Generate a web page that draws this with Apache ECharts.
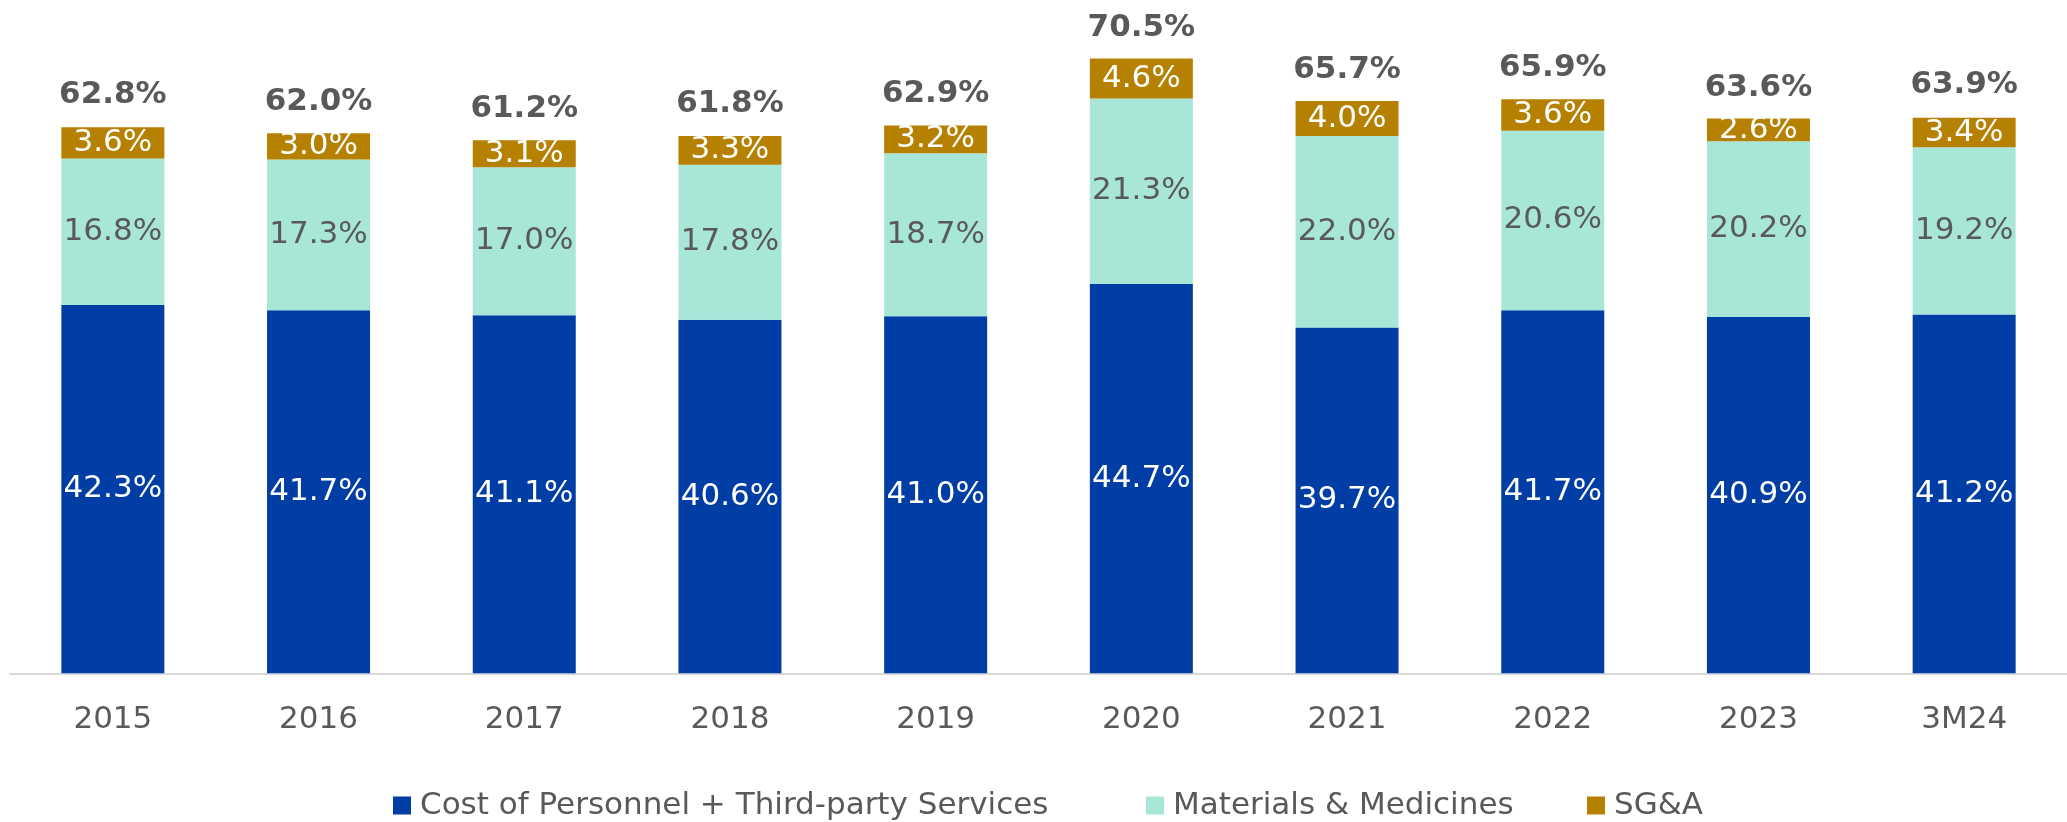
<!DOCTYPE html>
<html>
<head>
<meta charset="utf-8">
<script src="https://cdn.jsdelivr.net/npm/echarts@6/dist/echarts.min.js"></script>
<style>
html,body{margin:0;padding:0;background:#fff;}
#chart{width:2067px;height:822px;}
</style>
</head>
<body>
<div id="chart"></div>
<script>
const categories = ['2015','2016','2017','2018','2019','2020','2021','2022','2023','3M24'];
const personnel = [42.3, 41.7, 41.1, 40.6, 41.0, 44.7, 39.7, 41.7, 40.9, 41.2];
const materials = [16.8, 17.3, 17.0, 17.8, 18.7, 21.3, 22.0, 20.6, 20.2, 19.2];
const sga = [3.6, 3.0, 3.1, 3.3, 3.2, 4.6, 4.0, 3.6, 2.6, 3.4];
const totals = [62.8, 62.0, 61.2, 61.8, 62.9, 70.5, 65.7, 65.9, 63.6, 63.9];
const seriesNames = ['Cost of Personnel + Third-party Services', 'Materials & Medicines', 'SG&A'];

const FONT = 'DejaVu Sans, Verdana, sans-serif';
const GRAY = '#595959';
const pct = p => p.value.toFixed(1) + '%';

const chart = echarts.init(document.getElementById('chart'), null, {renderer: 'canvas'});

function legendAt(name, left) {
  return {
    data: [name], left: left, top: 785, padding: 5, itemWidth: 18, itemHeight: 18,
    icon: 'rect', selectedMode: false,
    textStyle: {fontFamily: FONT, fontSize: 31, color: GRAY, padding: [0, 0, 0, 4]}
  };
}

chart.setOption({
  animation: false,
  backgroundColor: '#ffffff',
  grid: {left: 10, right: -9, top: 0, bottom: 148.7, containLabel: false},
  legend: [
    legendAt(seriesNames[0], 388),
    legendAt(seriesNames[1], 1141),
    legendAt(seriesNames[2], 1582)
  ],
  xAxis: {
    type: 'category', data: categories,
    axisLine: {show: true, lineStyle: {color: '#D9D9D9', width: 2}},
    axisTick: {show: false},
    axisLabel: {fontFamily: FONT, fontSize: 31, color: GRAY, margin: 31}
  },
  yAxis: {type: 'value', min: 0, max: 77.31, show: false, splitLine: {show: false}},
  series: [
    {
      name: seriesNames[0], type: 'bar', stack: 'cost', data: personnel, barWidth: 103,
      itemStyle: {color: '#003DA5'},
      label: {show: true, position: 'inside', formatter: pct, fontFamily: FONT, fontSize: 31, color: '#ffffff'}
    },
    {
      name: seriesNames[1], type: 'bar', stack: 'cost', data: materials, barWidth: 103,
      itemStyle: {color: '#A8E6D7'},
      label: {show: true, position: 'inside', formatter: pct, fontFamily: FONT, fontSize: 31, color: GRAY}
    },
    {
      name: seriesNames[2], type: 'bar', stack: 'cost', data: sga, barWidth: 103,
      itemStyle: {color: '#B68000'},
      label: {show: true, position: 'inside', formatter: pct, fontFamily: FONT, fontSize: 31, color: '#ffffff'}
    },
    {
      name: 'Total', type: 'bar', data: totals, barWidth: 103, barGap: '-100%', silent: true,
      itemStyle: {color: 'rgba(0,0,0,0)'},
      label: {show: true, position: 'top', distance: 16, formatter: pct, fontFamily: FONT, fontSize: 31, fontWeight: 'bold', color: GRAY}
    }
  ]
});
</script>
</body>
</html>
